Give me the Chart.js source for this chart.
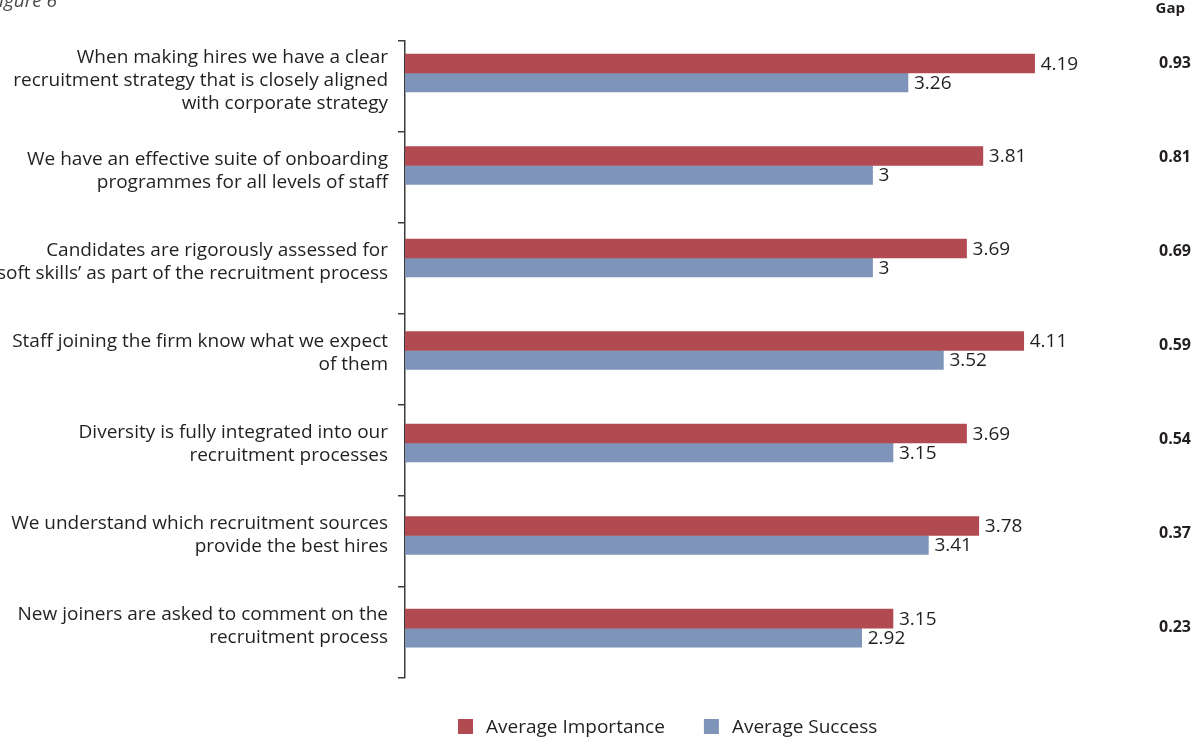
<!DOCTYPE html>
<html>
<head>
<meta charset="utf-8">
<script src="https://cdn.jsdelivr.net/npm/chart.js@4/dist/chart.umd.min.js"></script>
<style>
html, body { margin: 0; padding: 0; background: #fff; }
#wrap { width: 1192px; height: 743px; position: relative; }
</style>
</head>
<body>
<div id="wrap"><canvas id="mybarchart"></canvas></div>
<script>
// categories, top to bottom
const categories = [
    ["When making hires we have a clear", "recruitment strategy that is closely aligned", "with corporate strategy"],
    ["We have an effective suite of onboarding", "programmes for all levels of staff"],
    ["Candidates are rigorously assessed for", "\u2018soft skills\u2019 as part of the recruitment process"],
    ["Staff joining the firm know what we expect", "of them"],
    ["Diversity is fully integrated into our", "recruitment processes"],
    ["We understand which recruitment sources", "provide the best hires"],
    ["New joiners are asked to comment on the", "recruitment process"]
]
const importance = [4.19, 3.81, 3.69, 4.11, 3.69, 3.78, 3.15]
const success = [3.26, 3, 3, 3.52, 3.15, 3.41, 2.92]
const gaps = ["0.93", "0.81", "0.69", "0.59", "0.54", "0.37", "0.23"]
const seriesNames = ["Average Importance", "Average Success"]

const red = "#b24b51"
const blue = "#7e94b9"
const ink = "#231f20"
const fontName = "'Open Sans', 'Noto Sans', sans-serif"
const xMin = -0.433

// value texts, gap column, caption, legend
const extraText = {
    id: "extraText",
    afterDatasetsDraw(chart) {
        const ctx = chart.ctx
        ctx.save()
        ctx.fillStyle = ink
        ctx.font = "19px " + fontName
        ctx.textBaseline = "middle"
        ctx.textAlign = "left"
        chart.data.datasets.forEach(function(ds, d) {
            chart.getDatasetMeta(d).data.forEach(function(bar, i) {
                ctx.fillText(String(ds.data[i].x), bar.x + 6, bar.y + 1)
            })
        })
        // gap column
        ctx.font = "bold 16px " + fontName
        ctx.textAlign = "right"
        const reds = chart.getDatasetMeta(0).data
        gaps.forEach(function(g, i) {
            ctx.fillText(g, 1191, reds[i].y + i * 1.5)
        })
        ctx.font = "bold 15px " + fontName
        ctx.fillText("Gap", 1185, 9)
        // figure caption, cut at the top left like the source
        ctx.font = "italic 19px " + fontName
        ctx.fillStyle = "#4a4a4a"
        ctx.textAlign = "left"
        ctx.textBaseline = "alphabetic"
        ctx.fillText("Figure 6", -10, 7)
        // legend
        ctx.font = "19px " + fontName
        ctx.textBaseline = "middle"
        let x = 458
        chart.data.datasets.forEach(function(ds) {
            ctx.fillStyle = ds.backgroundColor
            ctx.fillRect(x, 719, 15, 15)
            ctx.fillStyle = ink
            ctx.fillText(ds.label, x + 28, 728)
            x += 28 + ctx.measureText(ds.label).width + 39
        })
        ctx.restore()
    }
}

const canvas = document.getElementById("mybarchart")
new Chart(canvas, {
    type: "bar",
    data: {
        labels: categories,
        datasets: [{
            label: seriesNames[0],
            data: importance.map(function(v, i) { return {x: v, y: i} }),
            backgroundColor: red,
            yAxisID: "yb",
            base: xMin,
            barThickness: 19
        }, {
            label: seriesNames[1],
            data: success.map(function(v, i) { return {x: v, y: i} }),
            backgroundColor: blue,
            yAxisID: "yb",
            base: xMin,
            barThickness: 19
        }]
    },
    options: {
        indexAxis: "y",
        responsive: true,
        maintainAspectRatio: false,
        animation: false,
        layout: { padding: { top: 41, bottom: 65, right: 92, left: 0 } },
        plugins: {
            legend: { display: false },
            tooltip: { enabled: false }
        },
        scales: {
            x: {
                type: "linear",
                display: false,
                min: xMin,
                max: 4.67
            },
            yb: {
                type: "linear",
                display: false,
                reverse: true,
                offset: false,
                min: -0.346,
                max: 6.54
            },
            y: {
                type: "category",
                position: "left",
                offset: true,
                border: { color: "#3c3c3c", width: 1.5 },
                grid: { offset: true, drawOnChartArea: false, tickLength: 7, color: "#3c3c3c", lineWidth: 1.5 },
                ticks: {
                    autoSkip: false,
                    color: ink,
                    padding: 10,
                    labelOffset: -6,
                    font: { family: fontName, size: 19, lineHeight: 1.21 }
                },
                afterFit: function(scale) { scale.width = 405 }
            }
        }
    },
    plugins: [extraText]
})
</script>
</body>
</html>
